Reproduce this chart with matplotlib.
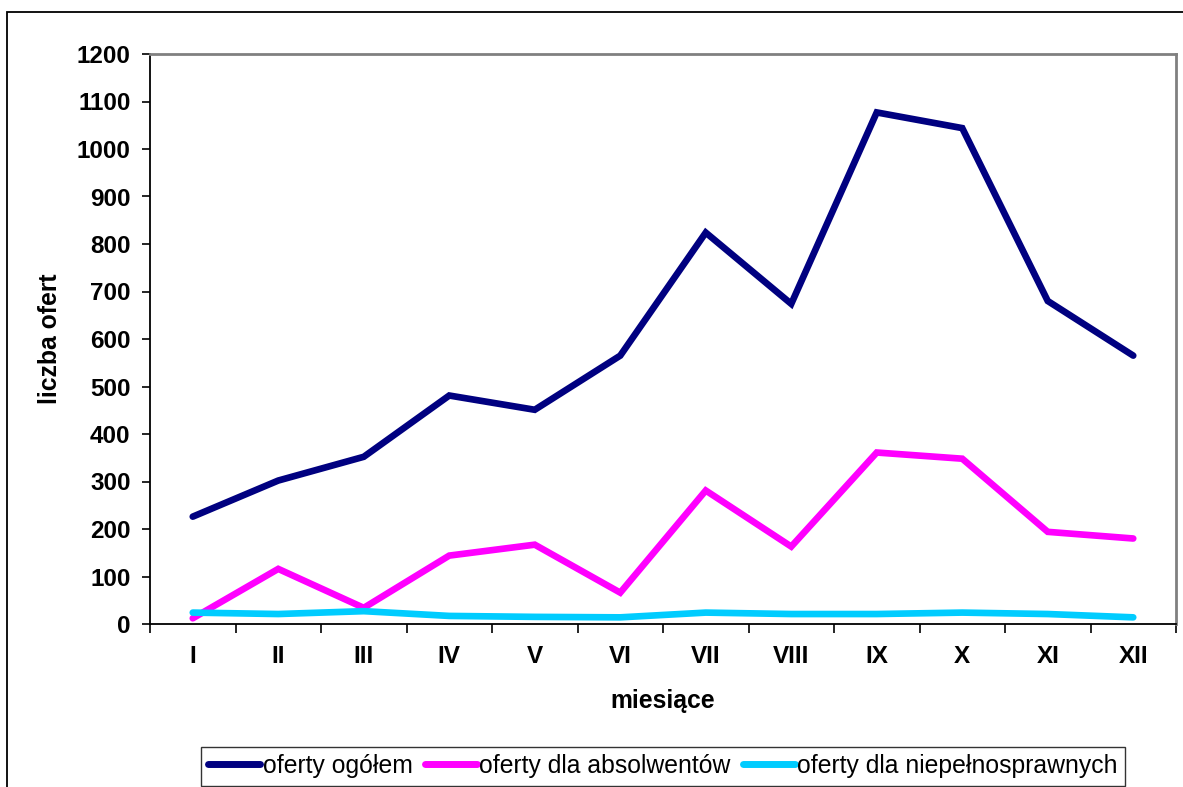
import matplotlib
matplotlib.use("Agg")
import matplotlib.pyplot as plt
from matplotlib.patches import Rectangle
from matplotlib.ticker import FixedLocator, NullFormatter, FixedFormatter

plt.rcParams['font.family'] = ['Liberation Sans', 'DejaVu Sans']

months = ["I", "II", "III", "IV", "V", "VI", "VII", "VIII", "IX", "X", "XI", "XII"]
oferty_ogolem = [226, 302, 352, 481, 451, 565, 824, 674, 1077, 1044, 680, 565]
oferty_absolwenci = [12, 116, 34, 144, 167, 66, 281, 163, 361, 348, 194, 180]
oferty_niepelnosprawni = [24, 21, 27, 17, 15, 14, 24, 21, 21, 24, 21, 14]

series_names = ["oferty ogółem", "oferty dla absolwentów", "oferty dla niepełnosprawnych"]
colors = ["#000080", "#FF00FF", "#00CCFF"]

W, H = 1183, 787
fig = plt.figure(figsize=(W / 100, H / 100), dpi=100)
ax = fig.add_axes([150 / W, 1 - 624 / H, (1176 - 150) / W, (624 - 54) / H])

x = list(range(len(months)))
for vals, name, c in zip([oferty_ogolem, oferty_absolwenci, oferty_niepelnosprawni], series_names, colors):
    ax.plot(x, vals, color=c, lw=4.8, label=name, solid_capstyle='round', solid_joinstyle='miter')

ax.set_xlim(-0.5, len(months) - 0.5)
ax.set_ylim(0, 1200)
ax.set_yticks(range(0, 1201, 100))
ax.xaxis.set_major_locator(FixedLocator([i - 0.5 for i in range(len(months) + 1)]))
ax.xaxis.set_major_formatter(NullFormatter())
ax.xaxis.set_minor_locator(FixedLocator(x))
ax.xaxis.set_minor_formatter(FixedFormatter(months))

ax.tick_params(axis='x', which='major', direction='out', length=6.5, width=1.2, color='black')
ax.tick_params(axis='x', which='minor', length=0, pad=15, labelsize=17.5)
ax.tick_params(axis='y', direction='out', length=6, width=1.2, pad=8, labelsize=17.5)
for lab in ax.get_xticklabels(minor=True) + ax.get_yticklabels():
    lab.set_fontweight('bold')

for s in ['left', 'bottom']:
    ax.spines[s].set_color('black')
    ax.spines[s].set_linewidth(1.3)
for s in ['top', 'right']:
    ax.spines[s].set_color('#808080')
    ax.spines[s].set_linewidth(2)

ax.set_xlabel("miesiące", fontsize=17.8, fontweight='bold', labelpad=15)
ax.set_ylabel("liczba ofert", fontsize=17.8, fontweight='bold')
ax.yaxis.set_label_coords(-(150 - 62) / (1176 - 150), 0.5)

leg = fig.legend(loc='lower center', bbox_to_anchor=(663 / W, 1.5 / H), ncol=3, fontsize=17.8,
                 frameon=True, fancybox=False, handlelength=2.1, handletextpad=0.1,
                 columnspacing=0.5, borderpad=0.3, borderaxespad=0)
leg.get_frame().set_edgecolor('black')
leg.get_frame().set_linewidth(1.0)
for l in leg.get_lines():
    l.set_linewidth(5)

fig.patches.append(Rectangle((7 / W, -0.1), 1.5, 1 - 12 / H + 0.1, transform=fig.transFigure,
                             fill=False, edgecolor='black', linewidth=1.3))

fig.savefig("out.png", dpi=100)
